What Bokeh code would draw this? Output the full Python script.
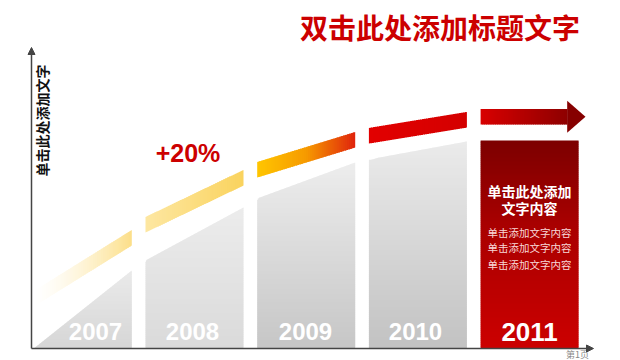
import numpy as np
from bokeh.plotting import figure
from bokeh.models import Range1d, Arrow, NormalHead
from bokeh.core.properties import value
from bokeh.embed import file_html
from bokeh.resources import INLINE

# ---------------- data ----------------
years = ["2007", "2008", "2009", "2010", "2011"]
curve_left = [0, 88, 150, 189]        # grey bar top at its left edge (2007-2010)
curve_right = [78, 141, 186, 207]     # grey bar top at its right edge
final_bar = 208                       # 2011 bar height
band_low_left = [42, 116, 171, 205]   # lower edge of the growth band, left end
band_low_right = [103, 163, 201, 221] # lower edge of the growth band, right end
arrow_low = 224                       # lower edge of the arrow shaft
growth_text = "+20%"
chart_title = "双击此处添加标题文字"
axis_title = "单击此处添加文字"
box_heading = ["单击此处添加", "文字内容"]
box_lines = ["单击添加文字内容", "单击添加文字内容", "单击添加文字内容"]
page_text = "第1页"

# ---------------- styling ----------------
STEP = 111.7
X0 = 82.3
BW = 98 / STEP
BAND_T = 15.5
CJK = value("Noto Sans CJK SC")
LAT = value("Liberation Sans")


def hex2rgb(h):
    h = h.lstrip("#")
    return np.array([int(h[i:i + 2], 16) for i in (0, 2, 4)], dtype=float)


def rgb2hex(c):
    return "#%02x%02x%02x" % tuple(int(round(v)) for v in c)


def grad(stops, t):
    t = min(max(t, 0.0), 1.0)
    for (p0, c0), (p1, c1) in zip(stops[:-1], stops[1:]):
        if t <= p1:
            f = 0 if p1 == p0 else (t - p0) / (p1 - p0)
            return rgb2hex(hex2rgb(c0) * (1 - f) + hex2rgb(c1) * f)
    return stops[-1][1]


def fade(col, a):
    return rgb2hex(np.array([255.0, 255.0, 255.0]) * (1 - a) + hex2rgb(col) * a)


p = figure(width=620, height=360,
           x_range=Range1d(-X0 / STEP, (620 - X0) / STEP),
           y_range=Range1d(-12, 348),
           x_axis_location=None, y_axis_location=None,
           output_backend="svg", toolbar_location=None,
           min_border=0, outline_line_color=None,
           background_fill_color="white", border_fill_color="white")
p.grid.visible = False

# ---------------- grey bars (vertical gradient) ----------------
grey_top = ["#EAEAEA", "#ECECEC", "#EDEDED", "#EBEBEB"]
grey_bot = ["#D6D6D6", "#DADADA", "#C6C6C6", "#C2C2C2"]
xs, ys, cols = [], [], []
for i in range(4):
    xl, xr = i - BW / 2, i + BW / 2
    cl, cr = curve_left[i], curve_right[i]
    top = max(cl, cr)

    def xline(y):
        if cr == cl:
            return xl
        t = (y - cl) / (cr - cl)
        return xl + min(max(t, 0), 1) * (xr - xl)

    y0 = 0.0
    while y0 < top:
        y1 = min(y0 + 2, top)
        y1e = min(y1 + 0.7, top)
        xs.append([xline(y0), xr, xr, xline(y1e)])
        ys.append([y0, y0, y1e, y1e])
        cols.append(grad([(0, grey_bot[i]), (1, grey_top[i])], (y0 + y1) / 2 / top))
        y0 = y1
p.patches(xs=xs, ys=ys, fill_color=cols, line_color=None)

# ---------------- 2011 bar ----------------
xs, ys, cols = [], [], []
y0 = 0.0
while y0 < final_bar:
    y1 = min(y0 + 2, final_bar)
    xs.append([4 - BW / 2, 4 + BW / 2, 4 + BW / 2, 4 - BW / 2])
    ys.append([y0, y0, min(y1 + 0.7, final_bar), min(y1 + 0.7, final_bar)])
    cols.append(grad([(0, "#CC0000"), (0.6, "#A80000"), (1, "#7C0000")], (y0 + y1) / 2 / final_bar))
    y0 = y1
p.patches(xs=xs, ys=ys, fill_color=cols, line_color=None)

# ---------------- growth band segments ----------------
band_stops = [
    [(0, "#FCE4A0"), (1, "#FCDF88")],
    [(0, "#FDE7A2"), (1, "#FAD35E")],
    [(0, "#FFC600"), (0.5, "#F69A00"), (1, "#E0240C")],
    [(0, "#E20000"), (1, "#D40000")],
]
xs, ys, cols = [], [], []
N = 48
for i in range(4):
    xl, xr = i - BW / 2, i + BW / 2
    for k in range(N):
        ta, tb = k / N, (k + 1) / N
        tbe = min(tb + 0.5 / N, 1)
        xa, xb = xl + ta * (xr - xl), xl + tbe * (xr - xl)
        la = band_low_left[i] + ta * (band_low_right[i] - band_low_left[i])
        lb = band_low_left[i] + tbe * (band_low_right[i] - band_low_left[i])
        xs.append([xa, xb, xb, xa])
        ys.append([la, lb, lb + BAND_T, la + BAND_T])
        tm = (ta + tb) / 2
        c = grad(band_stops[i], tm)
        if i == 0:
            c = fade(c, tm ** 1.4)
        cols.append(c)
p.patches(xs=xs, ys=ys, fill_color=cols, line_color=None)

# ---------------- arrow ----------------
shaft_l, shaft_r, tip = 4 - BW / 2, (567 - X0) / STEP, (585 - X0) / STEP
xs, ys, cols = [], [], []
for k in range(N):
    ta, tb = k / N, (k + 1) / N
    xa = shaft_l + ta * (shaft_r - shaft_l)
    xb = shaft_l + min(tb + 0.5 / N, 1) * (shaft_r - shaft_l)
    xs.append([xa, xb, xb, xa])
    ys.append([arrow_low, arrow_low, arrow_low + BAND_T, arrow_low + BAND_T])
    cols.append(grad([(0, "#D80000"), (1, "#8E0000")], (ta + tb) / 2))
mid = arrow_low + BAND_T / 2
xs.append([shaft_r - 0.003, tip, shaft_r - 0.003])
ys.append([mid - 16, mid, mid + 16])
cols.append("#860000")
p.patches(xs=xs, ys=ys, fill_color=cols, line_color=None)

# ---------------- axes with arrow heads ----------------
ax_x = (31 - X0) / STEP
p.add_layout(Arrow(end=NormalHead(size=7, fill_color="#444444", line_color="#444444"),
                   x_start=ax_x, y_start=0, x_end=ax_x, y_end=301,
                   line_color="#444444", line_width=1.5))
p.add_layout(Arrow(end=NormalHead(size=7, fill_color="#444444", line_color="#444444"),
                   x_start=ax_x, y_start=0, x_end=(593 - X0) / STEP, y_end=0,
                   line_color="#444444", line_width=1.5))

# ---------------- texts ----------------
year_px = [95, 192, 305, 415]
p.text(x=[(v - X0) / STEP for v in year_px], y=[17] * 4, text=years[:4],
       text_font=LAT, text_font_style="bold", text_font_size="24px",
       text_color="white", text_align="center", text_baseline="middle")
p.text(x=[4], y=[17], text=[years[4]],
       text_font=LAT, text_font_style="bold", text_font_size="26px",
       text_color="white", text_align="center", text_baseline="middle")

p.text(x=[(439.5 - X0) / STEP], y=[322], text=[chart_title],
       text_font=CJK, text_font_style="bold", text_font_size="28px",
       text_color="#CC0000", text_align="center", text_baseline="middle")

p.text(x=[(41 - X0) / STEP], y=[228], text=[axis_title], angle=np.pi / 2,
       text_font=CJK, text_font_style="bold", text_font_size="14px",
       text_color="#111111", text_align="center", text_baseline="middle")

p.text(x=[(187.5 - X0) / STEP], y=[196], text=[growth_text],
       text_font=LAT, text_font_style="bold", text_font_size="25px",
       text_color="#CC0000", text_align="center", text_baseline="middle")

p.text(x=[4, 4], y=[158, 141], text=box_heading,
       text_font=CJK, text_font_style="bold", text_font_size="14px",
       text_color="white", text_align="center", text_baseline="middle")
p.text(x=[4, 4, 4], y=[116, 101, 84], text=box_lines,
       text_font=CJK, text_font_size="10.5px",
       text_color="#F8D8D8", text_align="center", text_baseline="middle")

p.text(x=[(577 - X0) / STEP], y=[-5.5], text=[page_text],
       text_font=CJK, text_font_size="9px",
       text_color="#888888", text_align="center", text_baseline="middle")

open("out.html", "w").write(file_html(p, INLINE))
